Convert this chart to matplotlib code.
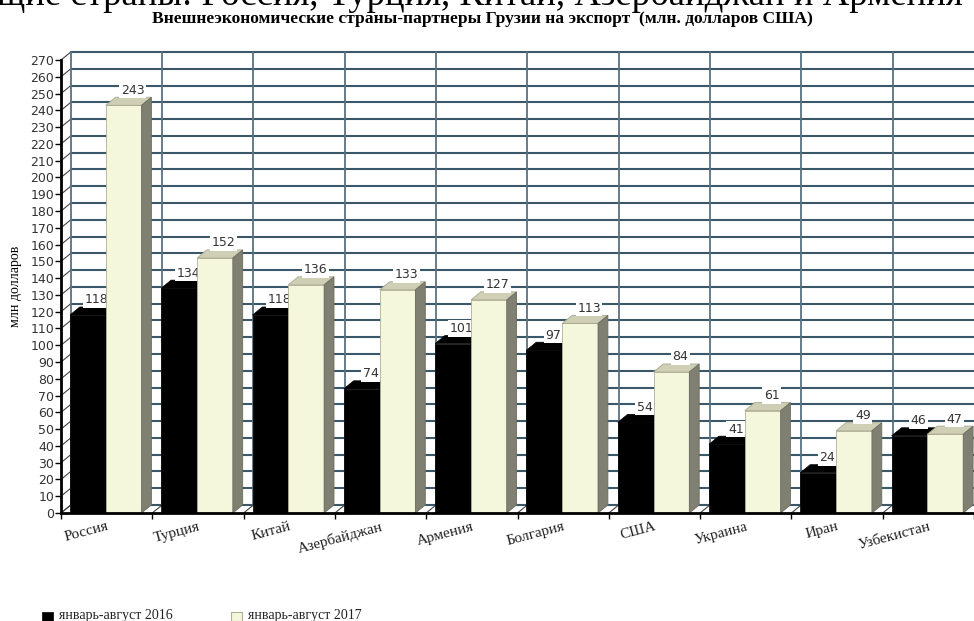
import numpy as np
import matplotlib
matplotlib.use("Agg")
import matplotlib.pyplot as plt
from matplotlib.patches import Rectangle, Polygon

countries = ["Россия", "Турция", "Китай", "Азербайджан", "Армения",
             "Болгария", "США", "Украина", "Иран", "Узбекистан"]
v2016 = [118, 134, 118, 74, 101, 97, 54, 41, 24, 46]
v2017 = [243, 152, 136, 133, 127, 113, 84, 61, 49, 47]
yticks = list(range(0, 271, 10))

serif = "Liberation Serif"
grid_c = "#3b5868"
front_c = "#F5F7DC"
top_c = "#CFCFB5"
side_c = "#808072"
dx, dy = 0.108, 4.8

fig = plt.figure(figsize=(9.74, 6.21), dpi=100)
ax = fig.add_axes([61/974, 108/621, 913/974, 453/621])
xmax = 913/91.8
ax.set_xlim(0, xmax)
ax.set_ylim(0, 270)

# back wall
for v in yticks:
    ax.plot([dx, xmax + 1], [v + dy, v + dy], color=grid_c, lw=1.5, zorder=1, clip_on=False)
    ax.plot([0, dx], [v, v + dy], color="#444", lw=0.8, zorder=1, clip_on=False)
for k in range(len(countries) + 1):
    ax.plot([k + dx, k + dx], [dy, 270 + dy], color="#5a7282", lw=1.3, zorder=1, clip_on=False)
    ax.plot([k, k + dx], [0, dy], color="#444", lw=0.8, zorder=1, clip_on=False)

w = 0.392
for k in range(len(countries)):
    x0 = k + 0.098
    # 2016 bar
    a = v2016[k]
    ax.add_patch(Rectangle((x0, 0), w, a, facecolor="black", edgecolor="black", lw=0.5, zorder=3))
    ax.add_patch(Polygon([(x0, a), (x0 + w, a), (x0 + w + dx, a + dy), (x0 + dx, a + dy)],
                         closed=True, facecolor="black", edgecolor="black", lw=0.5, zorder=3))
    ax.add_patch(Polygon([(x0 + w, 0), (x0 + w + dx, dy), (x0 + w + dx, a + dy), (x0 + w, a)],
                         closed=True, facecolor="black", edgecolor="black", lw=0.5, zorder=3))
    ax.text(x0 + w / 2 + dx * 0.9, a + 9, str(a), ha="center", va="center", fontsize=9,
            color="#333333", zorder=3.5,
            bbox=dict(facecolor="white", edgecolor="none", pad=1.2))
    # 2017 bar
    x1 = x0 + w
    b = v2017[k]
    ax.add_patch(Rectangle((x1, 0), w, b, facecolor=front_c, edgecolor="#b0b098", lw=0.6, zorder=4))
    ax.add_patch(Polygon([(x1, b), (x1 + w, b), (x1 + w + dx, b + dy), (x1 + dx, b + dy)],
                         closed=True, facecolor=top_c, edgecolor="#a8a890", lw=0.6, zorder=4))
    ax.add_patch(Polygon([(x1 + w, 0), (x1 + w + dx, dy), (x1 + w + dx, b + dy), (x1 + w, b)],
                         closed=True, facecolor=side_c, edgecolor="#6c6c60", lw=0.6, zorder=4))
    ax.text(x1 + w / 2 + dx * 0.9, b + 9, str(b), ha="center", va="center", fontsize=9,
            color="#333333", zorder=4.5,
            bbox=dict(facecolor="white", edgecolor="none", pad=1.2))

for s in ["top", "right"]:
    ax.spines[s].set_visible(False)
ax.spines["left"].set_linewidth(2)
ax.spines["bottom"].set_linewidth(2)
ax.spines["left"].set_zorder(6)
ax.spines["bottom"].set_zorder(6)

ax.set_yticks(yticks)
ax.tick_params(axis="y", direction="out", length=4, width=1, labelsize=9,
               labelcolor="#333333", pad=1)
ax.set_xticks(range(len(countries) + 1))
ax.set_xticklabels([])
ax.tick_params(axis="x", which="major", direction="out", length=4, width=1)
ax.set_xticks(np.arange(len(countries)) + 0.5, minor=True)
ax.set_xticklabels(countries, minor=True, rotation=15, ha="right",
                   rotation_mode="anchor", fontsize=11, family=serif, color="#222222")
ax.tick_params(axis="x", which="minor", length=0, pad=5)

ax.set_ylabel("млн долларов", family=serif, fontsize=10)
ax.yaxis.set_label_coords(-39/913, 0.5)

fig.text(-0.003, 1 - 5/621, "щие страны: Россия, Турция, Китай, Азербайджан и Армения",
         family=serif, fontsize=26.5, ha="left", va="baseline")
fig.text(0.495, 1 - 19/621,
         "Внешнеэкономические страны-партнеры Грузии на экспорт  (млн. долларов США)",
         family=serif, fontsize=12.6, weight="bold", ha="center", va="center")

# legend
fig.patches.append(Rectangle((42/974, 0), 11/974, 9/621, transform=fig.transFigure,
                             facecolor="black", edgecolor="black", lw=0.5))
fig.text(59/974, 2/621, "январь-август 2016", family=serif, fontsize=10,
         ha="left", va="baseline", color="#222222")
fig.patches.append(Rectangle((231/974, 0), 11/974, 9/621, transform=fig.transFigure,
                             facecolor=front_c, edgecolor="#b0b098", lw=0.8))
fig.text(248/974, 2/621, "январь-август 2017", family=serif, fontsize=10,
         ha="left", va="baseline", color="#222222")

fig.savefig("out.png", dpi=100)
